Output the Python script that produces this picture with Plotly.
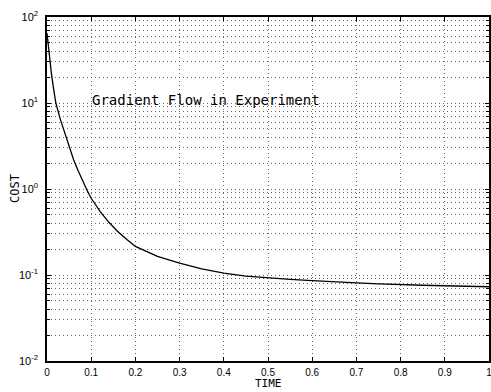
import plotly.graph_objects as go

time = [0.0, 0.005, 0.01, 0.015, 0.02, 0.03, 0.04, 0.05, 0.06, 0.07, 0.08, 0.09,
        0.10, 0.12, 0.14, 0.16, 0.18, 0.20, 0.25, 0.30, 0.35, 0.40, 0.45, 0.50,
        0.55, 0.60, 0.65, 0.70, 0.75, 0.80, 0.85, 0.90, 0.95, 1.0]
cost = [65, 35, 22, 14.5, 10, 6.5, 4.5, 3.1, 2.2, 1.65, 1.25, 0.98,
        0.78, 0.55, 0.41, 0.32, 0.26, 0.215, 0.165, 0.137, 0.118, 0.105, 0.097, 0.092,
        0.089, 0.086, 0.083, 0.081, 0.079, 0.077, 0.076, 0.075, 0.074, 0.073]

x_ticks = [0, 0.1, 0.2, 0.3, 0.4, 0.5, 0.6, 0.7, 0.8, 0.9, 1]
x_labels = ["0", "0.1", "0.2", "0.3", "0.4", "0.5", "0.6", "0.7", "0.8", "0.9", "1"]
decades = [-2, -1, 0, 1, 2]
title_text = "Gradient Flow in Experiment"
x_title = "TIME"
y_title = "COST"

y_major = [10 ** d for d in decades]
y_labels = ["10<sup>%d</sup>" % d for d in decades]
y_minor = [m * 10 ** d for d in decades[:-1] for m in range(2, 10)]

fig = go.Figure()
fig.add_trace(go.Scatter(x=time, y=cost, mode="lines",
                         line=dict(color="black", width=1.3), showlegend=False))

font = dict(family="Liberation Sans, Arial, sans-serif", size=11, color="black")
grid = dict(showgrid=True, gridcolor="#666", griddash="1px,3px", gridwidth=1)

fig.update_layout(
    width=491, height=392,
    margin=dict(l=47, r=2, t=17, b=31, autoexpand=False),
    paper_bgcolor="white", plot_bgcolor="white",
    font=font,
    xaxis=dict(range=[0, 1], tickvals=x_ticks, ticktext=x_labels, automargin=False,
               showline=True, mirror="ticks", linecolor="black", linewidth=1.5,
               ticks="inside", ticklen=4, tickcolor="black", ticklabelstandoff=1,
               tickfont=dict(size=10),
               ticklabeloverflow="allow", zeroline=False, **grid),
    yaxis=dict(type="log", range=[-2, 2], tickvals=y_major, ticktext=y_labels, automargin=False,
               showline=True, mirror="ticks", linecolor="black", linewidth=1.5,
               ticks="inside", ticklen=4, tickcolor="black", ticklabelstandoff=5,
               ticklabeloverflow="allow", zeroline=False, **grid,
               minor=dict(tickvals=y_minor, ticks="inside", ticklen=3, tickcolor="black",
                          showgrid=True, gridcolor="#666", griddash="1px,3px", gridwidth=1)),
)

fig.add_annotation(x=0.097, y=1, xref="x", yref="y", yshift=3,
                   text=title_text, showarrow=False, xanchor="left", yanchor="middle",
                   font=dict(family="DejaVu Sans Mono, monospace", size=14, color="black"))
fig.add_annotation(x=0.5, y=0, xref="paper", yref="paper", yshift=-31,
                   text=x_title, showarrow=False, xanchor="center", yanchor="bottom",
                   font=dict(family="DejaVu Sans Mono, monospace", size=11, color="black"))
fig.add_annotation(x=0, y=0.5, xref="paper", yref="paper", xshift=-32,
                   text=y_title, showarrow=False, xanchor="center", yanchor="middle",
                   textangle=-90,
                   font=dict(family="DejaVu Sans Mono, monospace", size=12, color="black"))

fig.write_html("out.html", config={"displayModeBar": False},
               post_script="document.body.style.margin='0';")
